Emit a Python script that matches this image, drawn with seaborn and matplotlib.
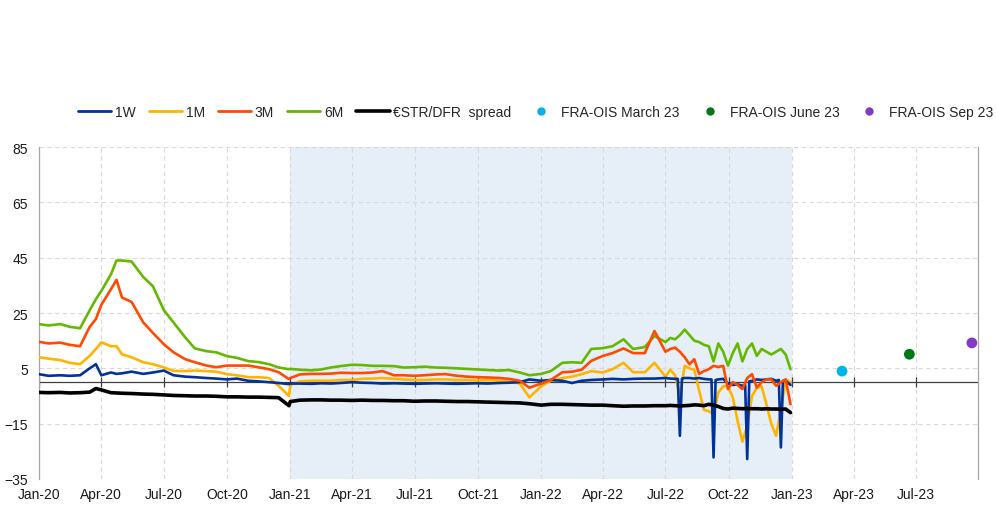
import pandas as pd
import seaborn as sns
import matplotlib.pyplot as plt
import matplotlib.dates as mdates
from matplotlib.lines import Line2D

# Observation dates: semi-monthly to mid-2022, a few extra days, then weekly
dates = (pd.date_range('2020-01-01', '2022-06-15', freq='SMS')
         .append(pd.DatetimeIndex(['2020-03-24', '2020-04-23', '2020-12-30']))
         .append(pd.date_range('2022-07-01', '2022-12-30', freq='7D'))
         .sort_values())

# Spreads in basis points
w1 = [2.9, 2.3, 2.5, 2.3, 2.5, 5, 6.5, 2.5, 3.5, 3, 3.2, 3.8, 3, 3.5, 4.2, 2.5, 2, 1.8, 1.5, 1.3,
      1, 1.3, 0.5, 0.3, 0, -0.3, -0.7,
      -0.5, -0.5, -0.6, -0.4, -0.5, -0.3, 0, -0.2, -0.3, -0.5, -0.4, -0.5, -0.6, -0.5, -0.4, -0.5,
      -0.6, -0.5, -0.4, -0.5, -0.3, -0.2, 0, 1,
      0.5, 0.8, 0.5, -0.3, 0.5, 0.8, 1, 1.2, 1, 1.2, 1.3, 1.3,
      1.5, 1.3, 1.2, -19.4, 1.5, 1.5, 1.3, 1.5, 1.2, 1, -27.2, 1, 1.2, -0.5, -1, -0.8, -1.3, -27.8,
      0.5, 1, 0.8, 1, 1.2, 0.5, -23.6, 0.5, -1]
w1_extra_dates = ['2022-07-19', '2022-07-25', '2022-09-06', '2022-09-12',
                  '2022-10-25', '2022-10-31', '2022-12-13', '2022-12-19']
w1_extra = [1.2, 1.3, 1.0, 0.8, -1, 0.3, 0.8, 0.5]

m1 = [9, 8.5, 8, 7, 6.5, 9.5, 12, 14.4, 13, 13, 10.1, 9, 7.2, 6.5, 5.3, 4.1, 4, 4.2, 4, 3.8,
      2.9, 2.5, 1.8, 1.8, 1.5, -1.3, -5,
      -1, 0.3, 0.5, 0.5, 0.5, 0.8, 0.8, 1.2, 1.3, 1.5, 1.2, 1, 0.8, 0.8, 1, 1, 0.8, 0.8, 0.6, 0.8,
      0.5, 0.3, -0.5, -5.5,
      -1.5, 0.5, 1.5, 2, 2.9, 4, 3.5, 4.7, 7, 3.6, 3.6, 7,
      2, 4.5, 2.5, -5, 5.9, 5, 4.5, -3, -10, -10.5, -11.6, -3.7, -1.5, -1.5, -5.5, -14, -21.5,
      -15.8, -5, -2, -1.5, -8, -15, -19.4, -10, 1, 0]

m3 = [14.6, 14, 14.3, 13.5, 13, 20, 22.8, 28, 33.6, 37, 30.6, 29, 21.6, 17.8, 13.7, 10.8, 8.3,
      7.2, 6, 5.4, 6, 6, 6, 5.4, 4.7, 3.6, 1.1,
      1.5, 2.8, 3, 3, 3.1, 3.4, 3.3, 3.3, 3.5, 4, 2.5, 2.5, 2.3, 2.5, 2.8, 2.9, 2.3, 2, 1.8, 1.7,
      1.5, 1.2, 0.5, -2,
      -0.5, 0.8, 3.6, 3.8, 4.5, 7.7, 9.5, 10.5, 12.2, 10.5, 10.5, 18.5,
      11, 12, 12.5, 11, 9, 6.5, 8.3, 3, 4, 4.7, 5.9, 5.5, 5.9, -2.5, 0, -1, -2.5, 1.5, 2.9, -2,
      0, 1, 1, -1.3, 0, 1, -8]

m6 = [21, 20.5, 21, 20, 19.5, 26, 30, 33, 39, 44, 44, 43.6, 38, 34.7, 26, 21.6, 16.2, 12.2,
      11.2, 10.8, 9.4, 8.8, 7.6, 7.3, 6.5, 5.3, 4.7,
      4.8, 4.5, 4.3, 4.6, 5.3, 5.8, 6.3, 6.2, 5.9, 5.9, 5.8, 5.3, 5.4, 5.6, 5.3, 5.2, 5, 4.8, 4.6,
      4.4, 4.2, 4.4, 3.5, 2.5,
      3, 4, 7, 7.2, 7, 12, 12.3, 13, 15.5, 12, 12.7, 16.7,
      14.5, 16, 15.5, 17, 19, 17, 15, 14.5, 13.5, 13, 7.5, 14, 11, 6, 10.5, 14, 7.5, 12, 14, 9.5,
      12, 11, 10, 11, 12, 10, 4.7]

estr_dfr = [-3.7, -3.8, -3.7, -3.9, -3.8, -3.6, -2.3, -2.8, -3.8, -3.9, -4, -4.1, -4.3, -4.4,
            -4.6, -4.8, -4.9, -5, -5, -5.1, -5.3, -5.3, -5.4, -5.4, -5.5, -5.6, -8.5,
            -7, -6.5, -6.4, -6.4, -6.5, -6.5, -6.6, -6.5, -6.6, -6.6, -6.7, -6.7, -6.9, -6.8, -6.8,
            -6.9, -7, -7, -7.1, -7.2, -7.3, -7.4, -7.5, -7.8,
            -8.3, -8, -8, -8.1, -8.2, -8.3, -8.3, -8.5, -8.7, -8.6, -8.6, -8.5,
            -8.5, -8.4, -8.5, -8.6, -8.5, -8.4, -8.2, -8.3, -8.5, -8, -8.3, -8.8, -9.5, -9.7, -9.4,
            -9.5, -9.6, -9.5, -9.6, -9.6, -9.7, -9.6, -9.7, -9.7, -9.8, -9.7, -11]

# FRA-OIS implied spreads
fra_labels = ['FRA-OIS March 23', 'FRA-OIS June 23', 'FRA-OIS Sep 23']
fra_dates = ['2023-03-15', '2023-06-21', '2023-09-20']
fra_values = [4.0, 10.1, 14.2]

series_labels = ['1W', '1M', '3M', '6M', '€STR/DFR  spread']
colors = {'1W': '#003299', '1M': '#ffb400', '3M': '#ff4b00', '6M': '#65b800',
          '€STR/DFR  spread': '#000000'}
fra_colors = ['#00b1ea', '#007816', '#8139c6']

sns.set_style('white')
plt.rcParams['font.family'] = ['Liberation Sans', 'DejaVu Sans']

df = pd.DataFrame({'date': dates, '1M': m1, '3M': m3, '6M': m6, '€STR/DFR  spread': estr_dfr})
w1_df = pd.concat([pd.DataFrame({'date': dates, 'value': w1}),
                   pd.DataFrame({'date': pd.to_datetime(w1_extra_dates), 'value': w1_extra})])
w1_df = w1_df.sort_values('date')

fig = plt.figure(figsize=(9.96, 5.06), dpi=100)
ax = fig.add_axes([0.039, 0.0514, 0.943, 0.656])

# Shaded period
ax.axvspan(pd.Timestamp('2021-01-01'), pd.Timestamp('2023-01-01'), color='#e6eef8', lw=0, zorder=0)

sns.lineplot(data=df, x='date', y='1M', color=colors['1M'], linewidth=1.9, ax=ax, zorder=3)
sns.lineplot(data=w1_df, x='date', y='value', color=colors['1W'], linewidth=1.9, ax=ax, zorder=4)
sns.lineplot(data=df, x='date', y='6M', color=colors['6M'], linewidth=1.9, ax=ax, zorder=3)
sns.lineplot(data=df, x='date', y='3M', color=colors['3M'], linewidth=1.9, ax=ax, zorder=5)
sns.lineplot(data=df, x='date', y='€STR/DFR  spread', color='black', linewidth=2.6, ax=ax, zorder=6)

for d, v, c in zip(fra_dates, fra_values, fra_colors):
    sns.scatterplot(x=[pd.Timestamp(d)], y=[v], color=c, s=60, edgecolor='none', ax=ax, zorder=6)

ticks = pd.date_range('2020-01-01', '2023-07-01', freq='QS')
ax.set_xlim(pd.Timestamp('2020-01-01'), pd.Timestamp('2023-09-29'))
ax.set_ylim(-35, 85)
ax.set_yticks(range(-35, 86, 20))
ax.set_xticks(ticks)
ax.xaxis.set_major_formatter(mdates.DateFormatter('%b-%y'))

ax.axhline(0, color='#404040', lw=0.9, zorder=2)
ax.plot(ticks, [0] * len(ticks), ls='none', marker='|', ms=7, mew=0.9, color='#404040', zorder=2)

ax.set_axisbelow(True)
ax.grid(True, color='#d9d9d9', linestyle=(0, (4, 3)), linewidth=0.8)
for s in ['top', 'bottom']:
    ax.spines[s].set_visible(False)
for s in ['left', 'right']:
    ax.spines[s].set_color('#a6a6a6')
    ax.spines[s].set_linewidth(0.9)
ax.tick_params(length=0, labelsize=10, colors='#1a1a1a')
ax.tick_params(axis='x', pad=6)
ax.tick_params(axis='y', pad=8)
ax.set_xlabel('')
ax.set_ylabel('')

handles = [Line2D([], [], color=colors[s], lw=2.6 if s.startswith('€') else 2) for s in series_labels]
handles += [Line2D([], [], ls='none', marker='o', ms=6, color=c, mec='none') for c in fra_colors]
fig.legend(handles, series_labels + fra_labels, loc='center', bbox_to_anchor=(0.538, 0.776),
           ncol=8, frameon=False, fontsize=10, handlelength=2.4, handletextpad=0.25,
           columnspacing=0.95)

fig.savefig('out.png', dpi=100)
